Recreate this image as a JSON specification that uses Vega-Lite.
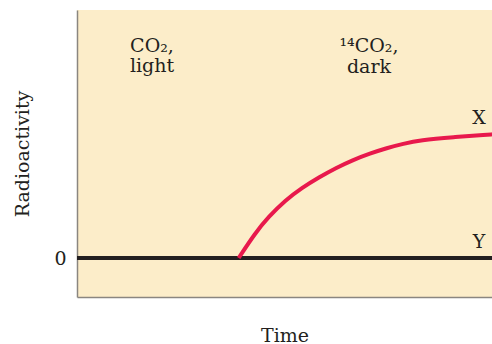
{
  "$schema": "https://vega.github.io/schema/vega-lite/v6.json",
  "width": 415,
  "height": 287,
  "autosize": {"type": "none"},
  "padding": {"left": 77, "top": 10, "right": 0, "bottom": 47},
  "background": "white",
  "config": {
    "view": {"stroke": null, "fill": "#FCEDC9"},
    "font": "DejaVu Serif"
  },
  "datasets": {
    "flat": [
      {"t": 0, "r": 0, "series": "Y"},
      {"t": 100, "r": 0, "series": "Y"}
    ],
    "curve": [
      {"t": 38.96, "r": 0, "series": "X"},
      {"t": 42.89, "r": 0.633, "series": "X"},
      {"t": 46.1, "r": 1.05, "series": "X"},
      {"t": 50.2, "r": 1.48, "series": "X"},
      {"t": 54.2, "r": 1.8, "series": "X"},
      {"t": 58.3, "r": 2.07, "series": "X"},
      {"t": 62.4, "r": 2.31, "series": "X"},
      {"t": 66.4, "r": 2.51, "series": "X"},
      {"t": 70.6, "r": 2.68, "series": "X"},
      {"t": 74.63, "r": 2.82, "series": "X"},
      {"t": 78.63, "r": 2.93, "series": "X"},
      {"t": 82.65, "r": 3.02, "series": "X"},
      {"t": 90.67, "r": 3.1, "series": "X"},
      {"t": 99.1, "r": 3.165, "series": "X"},
      {"t": 100, "r": 3.17, "series": "X"}
    ],
    "event": [{"t": 38.96}],
    "labels": [
      {"text": "CO₂,", "t": 18.07, "r": 5.27},
      {"text": "light", "t": 18.07, "r": 4.76},
      {"text": "¹⁴CO₂,", "t": 70.36, "r": 5.27},
      {"text": "dark", "t": 70.36, "r": 4.75},
      {"text": "X", "t": 96.87, "r": 3.44},
      {"text": "Y", "t": 96.87, "r": 0.256}
    ]
  },
  "encoding": {
    "x": {
      "field": "t",
      "type": "quantitative",
      "scale": {"domain": [0, 100], "nice": false, "zero": false},
      "axis": {
        "title": "Time",
        "labels": false,
        "ticks": false,
        "grid": false,
        "domainColor": "#8a8680",
        "domainWidth": 1.5,
        "titleFont": "DejaVu Serif",
        "titleFontSize": 19,
        "titleFontWeight": "normal",
        "titleColor": "#231F20",
        "titlePadding": 29
      }
    },
    "y": {
      "field": "r",
      "type": "quantitative",
      "scale": {"domain": [-1, 6.359], "nice": false, "zero": false},
      "axis": {
        "title": "Radioactivity",
        "values": [0],
        "ticks": false,
        "grid": false,
        "domainColor": "#8a8680",
        "domainWidth": 1.5,
        "labelFont": "DejaVu Serif",
        "labelFontSize": 19,
        "labelColor": "#231F20",
        "labelPadding": 11,
        "titleFont": "DejaVu Serif",
        "titleFontSize": 19,
        "titleFontWeight": "normal",
        "titleColor": "#231F20",
        "titlePadding": 21
      }
    }
  },
  "layer": [
    {
      "data": {"name": "event"},
      "mark": {"type": "rule", "color": "#7d7a74", "strokeWidth": 1.5, "strokeDash": [7, 5]},
      "encoding": {"x": {"field": "t", "type": "quantitative"}}
    },
    {
      "data": {"name": "flat"},
      "mark": {"type": "line", "color": "#231F20", "strokeWidth": 4, "strokeCap": "butt"},
      "encoding": {}
    },
    {
      "data": {"name": "curve"},
      "mark": {"type": "line", "color": "#E8194C", "strokeWidth": 4, "interpolate": "basis", "strokeCap": "butt"},
      "encoding": {}
    },
    {
      "data": {"name": "labels"},
      "mark": {"type": "text", "font": "DejaVu Serif", "fontSize": 19, "color": "#231F20", "align": "center", "baseline": "alphabetic"},
      "encoding": {"text": {"field": "text", "type": "nominal"}}
    }
  ]
}
